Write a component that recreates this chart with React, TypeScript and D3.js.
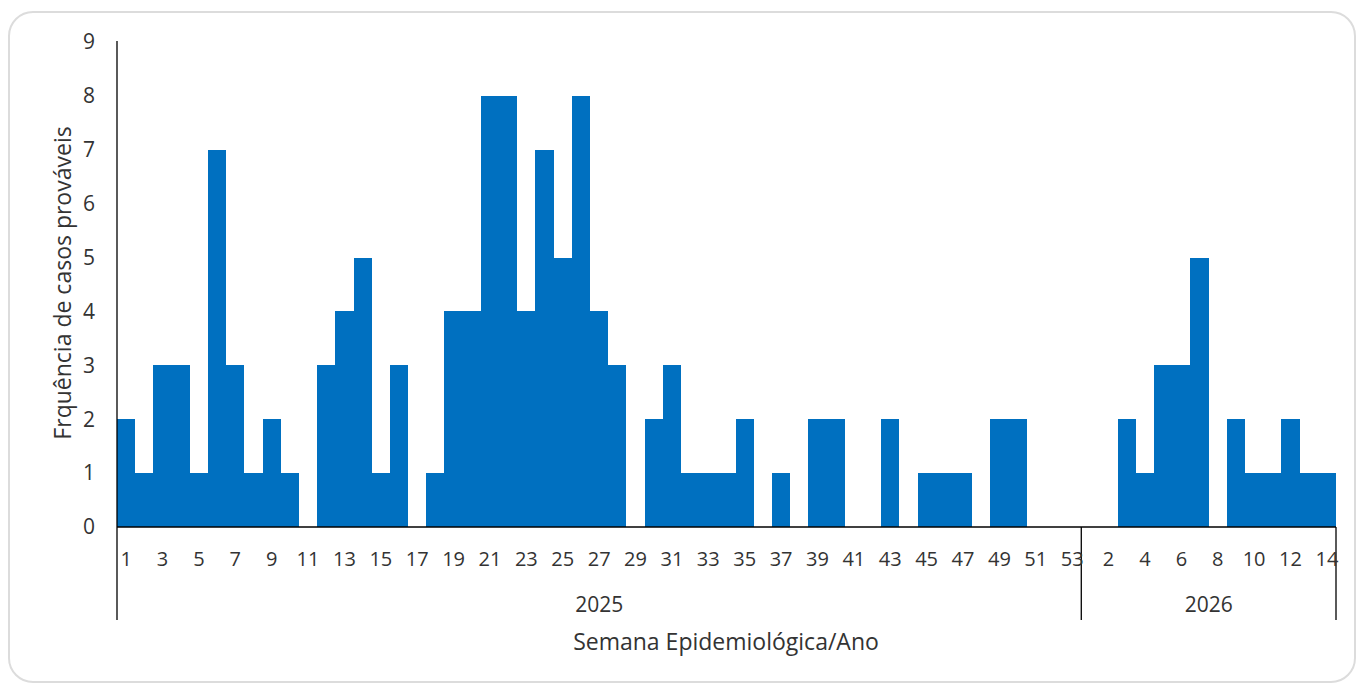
import React from "react";
import * as d3 from "d3";

const weeks2025: string[] = Array.from({ length: 53 }, (_, i) => String(i + 1));
const weeks2026: string[] = Array.from({ length: 14 }, (_, i) => String(i + 1));

const values2025: number[] = [
  2, 1, 3, 3, 1, 7, 3, 1, 2, 1,
  0, 3, 4, 5, 1, 3, 0, 1, 4, 4,
  8, 8, 4, 7, 5, 8, 4, 3, 0, 2,
  3, 1, 1, 1, 2, 0, 1, 0, 2, 2,
  0, 0, 2, 0, 1, 1, 1, 0, 2, 2,
  0, 0, 0,
];
const values2026: number[] = [0, 0, 2, 1, 3, 3, 5, 0, 2, 1, 1, 2, 1, 1];

const years: string[] = ["2025", "2026"];
const yTicks: number[] = [0, 1, 2, 3, 4, 5, 6, 7, 8, 9];

const yLabel = "Frquência de casos prováveis";
const xLabel = "Semana Epidemiológica/Ano";

type Row = { key: string; year: string; week: string; value: number };

const rows: Row[] = [
  ...weeks2025.map((w, i) => ({ key: `2025-${w}`, year: years[0], week: w, value: values2025[i] })),
  ...weeks2026.map((w, i) => ({ key: `2026-${w}`, year: years[1], week: w, value: values2026[i] })),
];

export default function App() {
  const W = 1359;
  const H = 684;
  const left = 117;
  const right = 1336;
  const top = 42;
  const bottom = 527;
  const font = "'Open Sans', sans-serif";
  const textColor = "#333333";

  const x = d3.scaleBand<string>().domain(rows.map((r) => r.key)).range([left, right]).padding(0);
  const y = d3.scaleLinear().domain([0, 9]).range([bottom, top]);

  const yearStart = (yr: string) => {
    const rs = rows.filter((r) => r.year === yr);
    return x(rs[0].key)!;
  };
  const yearEnd = (yr: string) => {
    const rs = rows.filter((r) => r.year === yr);
    return x(rs[rs.length - 1].key)! + x.bandwidth();
  };

  return (
    <svg width={W} height={H} style={{ position: "absolute", left: 0, top: 0, display: "block" }}>
      <rect x={9} y={12} width={1346} height={670} rx={24} ry={24} fill="#ffffff" stroke="#dcdcdc" strokeWidth={2} />
      {rows.map((r) => {
        const x0 = Math.round(x(r.key)!);
        const x1 = Math.round(x(r.key)! + x.bandwidth());
        const y0 = Math.round(y(r.value));
        return (
          <rect
            key={r.key}
            x={x0}
            y={y0}
            width={x1 - x0}
            height={Math.round(y(0)) - y0}
            fill="#0070C0"
            shapeRendering="crispEdges"
          />
        );
      })}
      {yTicks.map((t) => (
        <text key={t} x={95} y={y(t)} dy="0.35em" textAnchor="end" fontFamily={font} fontSize={21} fill={textColor}>
          {t}
        </text>
      ))}
      <line x1={left} x2={left} y1={top - 1} y2={620} stroke="#000" strokeWidth={1.3} />
      <line x1={left} x2={right} y1={bottom} y2={bottom} stroke="#000" strokeWidth={1.3} />
      {years.map((yr) => (
        <line key={yr} x1={yearEnd(yr)} x2={yearEnd(yr)} y1={bottom} y2={620} stroke="#000" strokeWidth={1.3} />
      ))}
      {rows.map((r, i) =>
        i % 2 === 0 ? (
          <text
            key={`t-${r.key}`}
            x={x(r.key)! + x.bandwidth() / 2}
            y={566}
            textAnchor="middle"
            fontFamily={font}
            fontSize={20}
            fill={textColor}
          >
            {r.week}
          </text>
        ) : null
      )}
      {years.map((yr) => (
        <text
          key={`y-${yr}`}
          x={(yearStart(yr) + yearEnd(yr)) / 2}
          y={612}
          textAnchor="middle"
          fontFamily={font}
          fontSize={21}
          fill={textColor}
        >
          {yr}
        </text>
      ))}
      <text x={726} y={650} textAnchor="middle" fontFamily={font} fontSize={23} fill={textColor}>
        {xLabel}
      </text>
      <text
        transform={`translate(71,283) rotate(-90)`}
        textAnchor="middle"
        fontFamily={font}
        fontSize={23}
        fill={textColor}
      >
        {yLabel}
      </text>
    </svg>
  );
}
